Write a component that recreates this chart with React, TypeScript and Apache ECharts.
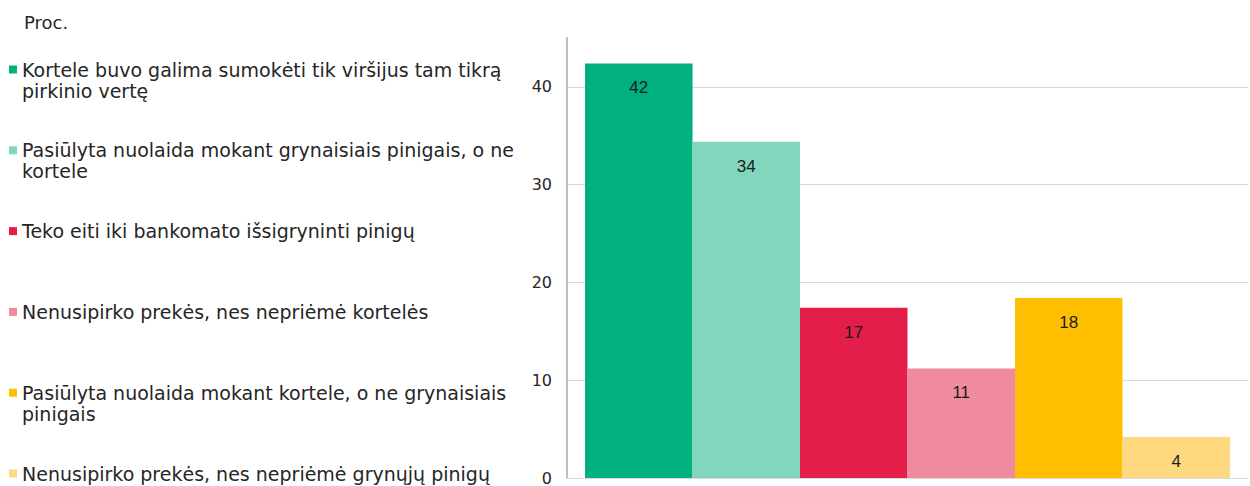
import React, { useEffect, useRef } from "react";
import * as echarts from "echarts";

const unitLabel = "Proc.";
const seriesNames = [
  "Kortele buvo galima sumokėti tik viršijus tam tikrą\npirkinio vertę",
  "Pasiūlyta nuolaida mokant grynaisiais pinigais, o ne\nkortele",
  "Teko eiti iki bankomato išsigryninti pinigų",
  "Nenusipirko prekės, nes nepriėmė kortelės",
  "Pasiūlyta nuolaida mokant kortele, o ne grynaisiais\npinigais",
  "Nenusipirko prekės, nes nepriėmė grynųjų pinigų",
];
const seriesValues = [42.4, 34.4, 17.4, 11.2, 18.4, 4.2];
const seriesColors = ["#00b07f", "#83d6be", "#e31e4a", "#ef8a9f", "#ffbf00", "#ffd980"];
const categories = [""];

export default function App() {
  const ref = useRef<HTMLDivElement>(null);
  useEffect(() => {
    document.body.style.margin = "0";
    const chart = echarts.init(ref.current!, undefined, { renderer: "svg" });
    const legendFont = "DejaVu Sans";
    chart.setOption({
      animation: false,
      title: {
        text: unitLabel,
        left: 19,
        top: 8,
        textStyle: { fontFamily: legendFont, fontSize: 18, fontWeight: "normal", color: "#262626" },
      },
      legend: {
        orient: "vertical",
        left: 9,
        top: 38,
        height: 480,
        padding: 0,
        itemGap: 17.8,
        itemWidth: 8,
        itemHeight: 8,
        icon: "rect",
        data: seriesNames,
        formatter: (name: string) => " \n" + (name.includes("\n") ? name : name + "\n "),
        textStyle: {
          fontFamily: legendFont,
          fontSize: 19,
          lineHeight: 21,
          color: "#262626",
        },
      },
      grid: { left: 567, right: 2, top: 38, bottom: 8 },
      xAxis: {
        type: "category",
        data: categories,
        axisLine: { show: true, lineStyle: { color: "#d9d9d9", width: 1 } },
        axisTick: { show: false },
        axisLabel: { show: false },
      },
      yAxis: {
        type: "value",
        min: 0,
        max: 45,
        interval: 10,
        axisLine: { show: true, lineStyle: { color: "#bfbfbf", width: 2 } },
        axisTick: { show: false },
        axisLabel: {
          showMaxLabel: false,
          margin: 15,
          fontFamily: legendFont,
          fontSize: 16,
          color: "#262626",
        },
        splitLine: { show: true, showMaxLine: false, lineStyle: { color: "#d9d9d9", width: 1 } },
      },
      series: seriesNames.map((name, i) => ({
        name,
        type: "bar",
        data: [seriesValues[i]],
        barGap: "0%",
        barCategoryGap: "5.3%",
        itemStyle: { color: seriesColors[i] },
        label: {
          show: true,
          position: "insideTop",
          distance: 16,
          formatter: (p: any) => String(Math.round(p.value)),
          fontFamily: "Liberation Sans",
          fontSize: 17,
          color: "#1a1a1a",
        },
      })),
    });
    return () => chart.dispose();
  }, []);
  return <div ref={ref} style={{ width: 1250, height: 486 }} />;
}
